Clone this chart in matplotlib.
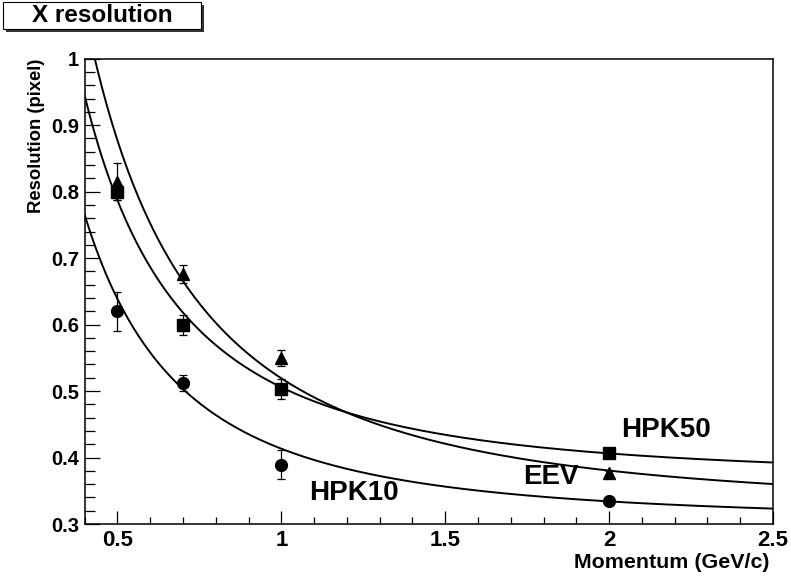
import numpy as np
import matplotlib
matplotlib.use('Agg')
import matplotlib.pyplot as plt
from matplotlib.patches import Rectangle
from matplotlib.ticker import MultipleLocator

plt.rcParams['font.family'] = ['Liberation Sans', 'DejaVu Sans']
plt.rcParams['font.weight'] = 'bold'

# measured points: momentum (GeV/c), resolution (pixel), error
momentum = [0.5, 0.7, 1.0, 2.0]
hpk10_res = [0.620, 0.512, 0.389, 0.334]
hpk10_err = [0.029, 0.0125, 0.022, 0.003]
hpk50_res = [0.800, 0.599, 0.503, 0.407]
hpk50_err = [0.012, 0.015, 0.015, 0.003]
eev_res = [0.815, 0.676, 0.550, 0.377]
eev_err = [0.028, 0.013, 0.0125, 0.003]

# fit parameters: sigma = sqrt((a/p)^2 + b^2)
hpk10_fit = (0.281, 0.303)
hpk50_fit = (0.348, 0.367)
eev_fit = (0.408, 0.321)

W, H = 791, 576
fig = plt.figure(figsize=(W / 100, H / 100), dpi=100)
ax = fig.add_axes([84.7 / W, 1 - 524 / H, (773 - 84.7) / W, (524 - 58.7) / H])

p = np.linspace(0.4, 2.5, 400)
for a, b in (hpk10_fit, hpk50_fit, eev_fit):
    ax.plot(p, np.sqrt((a / p) ** 2 + b ** 2), color='black', lw=1.4, zorder=2)

ekw = dict(color='black', ecolor='black', elinewidth=0.9, capsize=3, capthick=0.9,
           linestyle='none', zorder=3)
ax.errorbar(momentum, hpk10_res, yerr=hpk10_err, marker='o', ms=8.5, **ekw)
ax.errorbar(momentum, eev_res, yerr=eev_err, marker='^', ms=8.5, **ekw)
ax.errorbar(momentum, hpk50_res, yerr=hpk50_err, marker='s', ms=8, **ekw)

ax.text(2.173, 0.4416, 'HPK50', fontsize=20, fontweight='bold', ha='center', va='center')
ax.text(1.821, 0.371, 'EEV', fontsize=20, fontweight='bold', ha='center', va='center')
ax.text(1.222, 0.347, 'HPK10', fontsize=20, fontweight='bold', ha='center', va='center')

ax.set_xlim(0.4, 2.5)
ax.set_ylim(0.3, 1.0)
ax.xaxis.set_major_locator(MultipleLocator(0.5))
ax.xaxis.set_minor_locator(MultipleLocator(0.1))
ax.yaxis.set_major_locator(MultipleLocator(0.1))
ax.yaxis.set_minor_locator(MultipleLocator(0.02))
ax.xaxis.set_major_formatter(lambda v, pos: f'{v:g}')
ax.yaxis.set_major_formatter(lambda v, pos: f'{v:g}')

ax.tick_params(axis='x', which='major', direction='in', length=9.6, width=0.9,
               labelsize=16, pad=4.5, top=False)
ax.tick_params(axis='x', which='minor', direction='in', length=4.8, width=0.9, top=False)
ax.tick_params(axis='y', which='major', direction='in', length=10.8, width=0.9,
               labelsize=14.5, pad=4, right=False)
ax.tick_params(axis='y', which='minor', direction='in', length=7.2, width=0.9, right=False)
for lab in ax.get_xticklabels() + ax.get_yticklabels():
    lab.set_fontweight('bold')
for s in ax.spines.values():
    s.set_linewidth(1.1)

fig.text(770 / W, 1 - 562 / H, 'Momentum (GeV/c)', fontsize=15.4, fontweight='bold',
         ha='right', va='center')
fig.text(37 / W, 1 - 59 / H, 'Resolution (pixel)', fontsize=13.3, fontweight='bold',
         rotation=90, ha='center', va='top')

# title box with ROOT-style shadow
fig.patches.append(Rectangle((6 / W, 1 - 32 / H), 198 / W, 27 / H, transform=fig.transFigure,
                             facecolor='#333333', edgecolor='none', zorder=1))
fig.patches.append(Rectangle((3 / W, 1 - 29 / H), 198 / W, 27 / H, transform=fig.transFigure,
                             facecolor='white', edgecolor='black', lw=0.8, zorder=2))
fig.text(102 / W, 1 - 16 / H, 'X resolution', fontsize=17.5, fontweight='bold',
         ha='center', va='center', zorder=3)

fig.savefig('out.png', dpi=100)
